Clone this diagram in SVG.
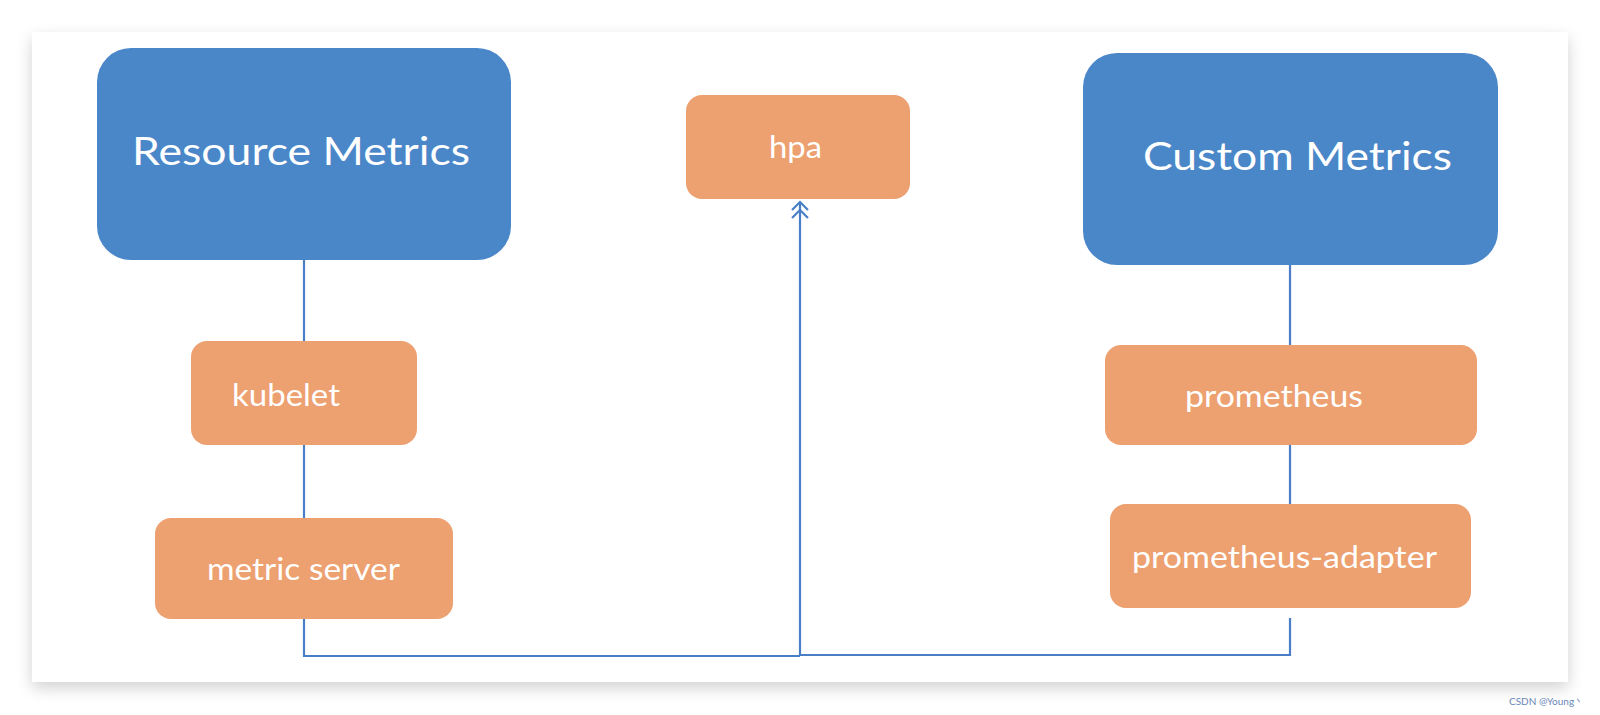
<svg xmlns="http://www.w3.org/2000/svg" width="1600" height="715" viewBox="0 0 1600 715">
<defs>
<style>
.big{fill:#4A87C9;}
.small{fill:#EDA070;}
.lbl{font-family:Lato,"Open Sans","Liberation Sans",sans-serif;fill:#ffffff;text-anchor:start;}
.t1{font-size:38px;}
.t2{font-size:30px;}
.conn{fill:none;stroke:#4A7FC8;stroke-width:2.2;}
</style>
<filter id="sh" x="-5%" y="-10%" width="110%" height="125%">
<feGaussianBlur in="SourceAlpha" stdDeviation="8"/>
<feOffset dy="6"/>
<feComponentTransfer><feFuncA type="linear" slope="0.18"/></feComponentTransfer>
<feMerge><feMergeNode/><feMergeNode in="SourceGraphic"/></feMerge>
</filter>
<marker id="dbl" markerWidth="26" markerHeight="24" refX="22" refY="12" orient="auto" markerUnits="userSpaceOnUse" overflow="visible">
<path d="M14,4 L22,12 L14,20 M6,4 L14,12 L6,20" fill="none" stroke="#4A7FC8" stroke-width="2.2"/>
</marker>
</defs>
<rect x="0" y="0" width="1600" height="715" fill="#ffffff"/>
<rect x="32" y="32" width="1536" height="650" fill="#ffffff" filter="url(#sh)"/>
<g id="connectors">
<line class="conn" x1="304" y1="260" x2="304" y2="341"/>
<line class="conn" x1="304" y1="445" x2="304" y2="518"/>
<polyline class="conn" points="304,619 304,656 800,656"/>
<line class="conn" x1="1290" y1="265" x2="1290" y2="345"/>
<line class="conn" x1="1290" y1="445" x2="1290" y2="504"/>
<polyline class="conn" points="1290,618 1290,655 800,655"/>
<line class="conn" x1="800" y1="656" x2="800" y2="202" marker-end="url(#dbl)"/>
</g>
<g id="resource-metrics">
<rect class="big" x="97" y="48" width="414" height="212" rx="34"/>
<text class="lbl t1" x="132" y="165" textLength="338" lengthAdjust="spacingAndGlyphs">Resource Metrics</text>
</g>
<g id="hpa">
<rect class="small" x="686" y="95" width="224" height="104" rx="16"/>
<text class="lbl t2" x="769" y="158" textLength="53" lengthAdjust="spacingAndGlyphs">hpa</text>
</g>
<g id="custom-metrics">
<rect class="big" x="1083" y="53" width="415" height="212" rx="34"/>
<text class="lbl t1" x="1143" y="170" textLength="309" lengthAdjust="spacingAndGlyphs">Custom Metrics</text>
</g>
<g id="kubelet">
<rect class="small" x="191" y="341" width="226" height="104" rx="16"/>
<text class="lbl t2" x="232" y="406" textLength="108" lengthAdjust="spacingAndGlyphs">kubelet</text>
</g>
<g id="metric-server">
<rect class="small" x="155" y="518" width="298" height="101" rx="16"/>
<text class="lbl t2" x="207" y="580" textLength="193" lengthAdjust="spacingAndGlyphs">metric server</text>
</g>
<g id="prometheus">
<rect class="small" x="1105" y="345" width="372" height="100" rx="16"/>
<text class="lbl t2" x="1185" y="407" textLength="178" lengthAdjust="spacingAndGlyphs">prometheus</text>
</g>
<g id="prometheus-adapter">
<rect class="small" x="1110" y="504" width="361" height="104" rx="16"/>
<text class="lbl t2" x="1132" y="568" textLength="305" lengthAdjust="spacingAndGlyphs">prometheus-adapter</text>
</g>
<text x="1509" y="705" font-family="Lato,'Liberation Sans',sans-serif" font-size="10" fill="#6A86B8">CSDN @Young丶</text>
</svg>
